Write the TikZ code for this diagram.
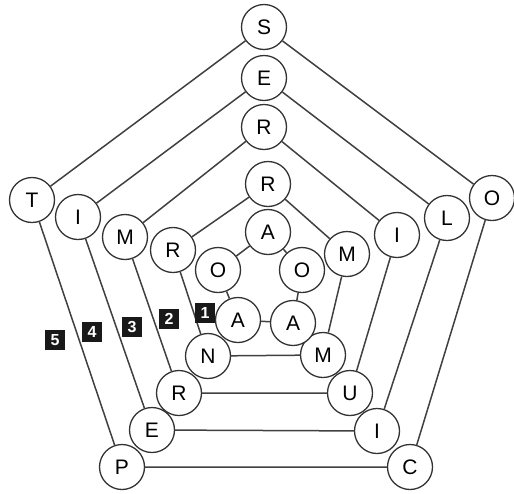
\documentclass[tikz,border=0pt]{standalone}
\usepackage{fontspec}
\setmainfont{Liberation Sans}
\begin{document}
\begin{tikzpicture}[x=1pt,y=-1pt,
  letter/.style={circle,draw=black!80,line width=1.3pt,fill=white,minimum size=45pt,inner sep=0pt,font=\fontsize{21}{21}\selectfont},
  link/.style={draw=black!75,line width=1.5pt},
  tag/.style={fill=black!90,text=white,minimum width=20pt,minimum height=20pt,inner sep=0pt,font=\bfseries\fontsize{16}{16}\selectfont}]
\useasboundingbox (0,0) rectangle (514,493);
% ring 5
\node[letter] (s5) at (264,27) {S};
\node[letter] (t5) at (32,200) {T};
\node[letter] (o5) at (492,198) {O};
\node[letter] (p5) at (122,467) {P};
\node[letter] (c5) at (410,467) {C};
% ring 4
\node[letter] (e4) at (264,78) {E};
\node[letter] (i4) at (78,217) {I};
\node[letter] (l4) at (447,218) {L};
\node[letter] (e4b) at (152,430) {E};
\node[letter] (i4b) at (377,431) {I};
% ring 3
\node[letter] (r3) at (264,127) {R};
\node[letter] (m3) at (125,237) {M};
\node[letter] (i3) at (397,235) {I};
\node[letter] (r3b) at (179,393) {R};
\node[letter] (u3) at (350,393) {U};
% ring 2
\node[letter] (r2) at (268,184) {R};
\node[letter] (r2b) at (173,250) {R};
\node[letter] (m2) at (347,254) {M};
\node[letter] (n2) at (208,356) {N};
\node[letter] (m2b) at (323,355) {M};
% ring 1
\node[letter] (a1) at (268,232) {A};
\node[letter] (o1) at (218,270) {O};
\node[letter] (o1b) at (302,270) {O};
\node[letter] (a1b) at (238,320) {A};
\node[letter] (a1c) at (293,323) {A};
% links
\draw[link] (s5) -- (t5) (t5) -- (p5) (p5) -- (c5) (c5) -- (o5) (o5) -- (s5);
\draw[link] (e4) -- (i4) (i4) -- (e4b) (e4b) -- (i4b) (i4b) -- (l4) (l4) -- (e4);
\draw[link] (r3) -- (m3) (m3) -- (r3b) (r3b) -- (u3) (u3) -- (i3) (i3) -- (r3);
\draw[link] (r2) -- (r2b) (r2b) -- (n2) (n2) -- (m2b) (m2b) -- (m2) (m2) -- (r2);
\draw[link] (a1) -- (o1) (o1) -- (a1b) (a1b) -- (a1c) (a1c) -- (o1b) (o1b) -- (a1);
% tags
\node[tag] (k1) at (205,313) {1};
\node[tag] (k2) at (169,319) {2};
\node[tag] (k3) at (132,327) {3};
\node[tag] (k4) at (92,332) {4};
\node[tag] (k5) at (55,340) {5};
\end{tikzpicture}
\end{document}
